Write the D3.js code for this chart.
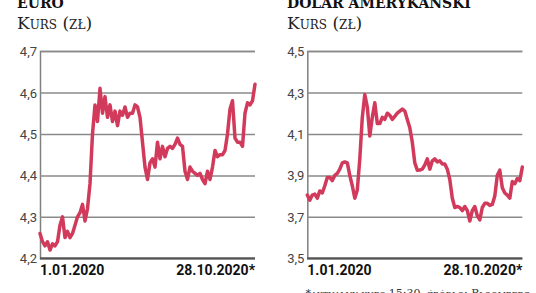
<!DOCTYPE html>
<html>
<head>
<meta charset="utf-8">
<script src="https://cdn.jsdelivr.net/npm/d3@7"></script>
<style>
	body { margin:0; background:#fff; }
	svg { display:block; }
	.title { font-family:"DejaVu Serif", serif; font-weight:bold; font-size:14px; fill:#111; }
	.sub { font-family:"DejaVu Serif", serif; font-variant:small-caps; font-size:17px; fill:#222; }
	.tick text { font-family:"Liberation Sans Narrow", "Roboto", sans-serif; font-size:13px; fill:#444; }
	.date { font-family:"Liberation Sans Narrow", "Roboto", sans-serif; font-weight:bold; font-size:14px; fill:#111; }
	.foot { font-family:"DejaVu Serif", serif; font-variant:small-caps; font-size:11px; fill:#333; }
</style>
</head>
<body>
<svg id="chart" width="536" height="293"></svg>
<script>
// EUR/PLN (1.01.2020 - 28.10.2020)
var euroValues = [4.26,4.24,4.23,4.24,4.22,4.235,4.23,4.24,4.28,4.30,4.25,4.265,4.25,4.26,4.28,4.30,4.31,4.33,4.29,4.32,
	4.38,4.50,4.57,4.53,4.61,4.55,4.59,4.54,4.57,4.53,4.555,4.52,4.555,4.545,4.565,4.54,4.55,4.55,4.57,4.565,
	4.54,4.48,4.42,4.39,4.43,4.44,4.42,4.48,4.44,4.47,4.445,4.465,4.47,4.465,4.475,4.49,4.475,4.47,4.41,4.39,
	4.42,4.41,4.405,4.40,4.405,4.39,4.38,4.41,4.39,4.42,4.46,4.445,4.45,4.45,4.46,4.50,4.56,4.58,4.49,4.48,
	4.48,4.47,4.55,4.575,4.57,4.58,4.62];
// USD/PLN
var usdValues = [3.805,3.78,3.805,3.81,3.79,3.825,3.815,3.85,3.89,3.89,3.875,3.90,3.91,3.93,3.96,3.965,3.96,3.90,3.85,3.79,
	3.83,3.98,4.18,4.29,4.23,4.09,4.18,4.25,4.15,4.15,4.18,4.17,4.20,4.19,4.17,4.185,4.20,4.21,4.22,4.21,
	4.17,4.13,4.06,3.96,3.925,3.926,3.93,3.95,3.98,3.93,3.97,3.98,3.965,3.97,3.955,3.955,3.93,3.88,3.79,3.745,
	3.75,3.745,3.73,3.75,3.73,3.68,3.73,3.75,3.705,3.685,3.745,3.765,3.765,3.755,3.76,3.80,3.90,3.925,3.84,3.815,
	3.805,3.79,3.87,3.86,3.885,3.875,3.94];

var euroTicks = [4.2, 4.3, 4.4, 4.5, 4.6, 4.7];
var usdTicks = [3.5, 3.7, 3.9, 4.1, 4.3, 4.5];
var dateLabels = ["1.01.2020", "28.10.2020*"];

var svg = d3.select("#chart");

function drawPanel(opts){
	var g = svg.append("g");
	var x = d3.scaleLinear().domain([0, opts.values.length - 1]).range([opts.left, opts.right]);
	var y = d3.scaleLinear().domain(d3.extent(opts.ticks)).range([258.3, 51]);

	// titles
	g.append("text").attr("class", "title").attr("x", opts.titleX).attr("y", 8).text(opts.title);
	g.append("text").attr("class", "sub").attr("x", opts.titleX).attr("y", 29).text("Kurs (zł)");

	// gridlines + labels
	var axis = g.append("g")
				.attr("transform", "translate(" + opts.left + ",0)")
				.call(d3.axisLeft(y)
						.tickValues(opts.ticks)
						.tickSize(-(opts.right - opts.left))
						.tickPadding(3)
						.tickFormat(function(d){ return d3.format(".1f")(d).replace(".", ","); }));
	axis.select(".domain").attr("stroke", "#808080").attr("stroke-width", 1.5);
	axis.selectAll(".tick line").attr("stroke", "#8a8a8a").attr("stroke-width", 1.5);
	axis.selectAll(".tick text").attr("dy", "0.35em");

	// bottom axis line
	g.append("line")
		.attr("x1", opts.left).attr("x2", opts.right)
		.attr("y1", y(opts.ticks[0])).attr("y2", y(opts.ticks[0]))
		.attr("stroke", "#555").attr("stroke-width", 2);

	var line = d3.line()
				.x(function(d, i){ return x(i); })
				.y(function(d){ return y(d); });

	g.append("path")
		.datum(opts.values)
		.attr("d", line)
		.attr("fill", "none")
		.attr("stroke", "#d23a5c")
		.attr("stroke-width", 3.5)
		.attr("stroke-linejoin", "round")
		.attr("stroke-linecap", "round");

	g.append("text").attr("class", "date").attr("x", opts.left).attr("y", 275).text(dateLabels[0]);
	g.append("text").attr("class", "date").attr("x", opts.right).attr("y", 275)
		.attr("text-anchor", "end").text(dateLabels[1]);
}

drawPanel({values: euroValues, ticks: euroTicks, left: 40, right: 255, title: "EURO", titleX: 17});
drawPanel({values: usdValues, ticks: usdTicks, left: 307.3, right: 522.3, title: "DOLAR AMERYKAŃSKI", titleX: 287});

svg.append("text").attr("class", "foot").attr("x", 530).attr("y", 296.5)
	.attr("text-anchor", "end").text("*aktualny kurs 15:30, źródło: Bloomberg");
</script>
</body>
</html>
